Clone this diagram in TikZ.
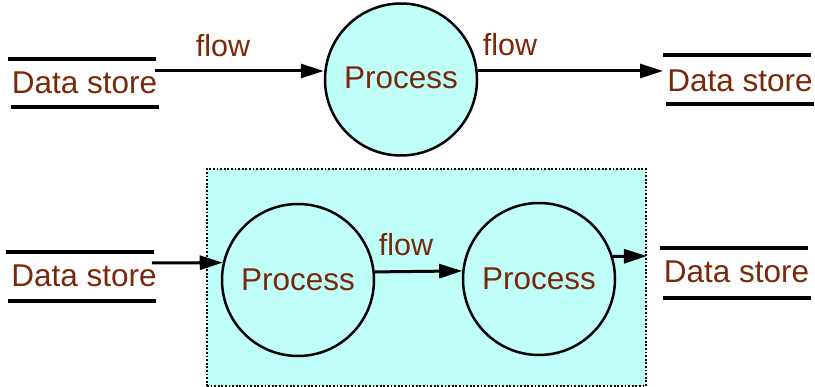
\documentclass[tikz,border=0pt]{standalone}
\usepackage{fontspec}
\setmainfont{Liberation Sans}
\usetikzlibrary{arrows.meta,calc}
\definecolor{txtbrown}{RGB}{122,40,10}
\definecolor{procfill}{RGB}{192,255,248}
\tikzset{
  proc/.style={circle,draw=black,line width=2.5pt,fill=procfill,
    minimum size=152pt,inner sep=0pt,text=txtbrown,font=\fontsize{31.5}{37}\selectfont},
  storetext/.style={anchor=base,inner sep=0pt,text=txtbrown,font=\fontsize{31.5}{37}\selectfont},
  storeline/.style={line width=3.5pt},
  flowlabel/.style={anchor=base,inner sep=0pt,text=txtbrown,font=\fontsize{30.5}{36}\selectfont},
  flowarrow/.style={line width=3pt,-{Triangle[length=23pt,width=14pt]}},
  group/.style={draw=black,line width=1.8pt,dash pattern=on 1.8pt off 1.8pt,fill=procfill}
}
\begin{document}
\begin{tikzpicture}[x=1pt,y=-1pt]
\useasboundingbox (0,0) rectangle (815,387);

% grouping box behind the lower pair of processes
\node[group,minimum width=439pt,minimum height=217pt,inner sep=0pt] (grp) at (426.5,277.5) {};

% processes
\node[proc] (c1) at (401,79.5) {\raisebox{3pt}{Process}};
\node[proc] (c2) at (298,280) {Process};
\node[proc] (c3) at (539,279) {Process};

% data stores: text with a line above and below
\node[storetext] (ds1) at (84.5,94) {Data store};
\draw[storeline] (8,59) -- (156,59);
\draw[storeline] (11,107) -- (159,107);

\node[storetext] (ds2) at (740,92) {Data store};
\draw[storeline] (663,55) -- (811,55);
\draw[storeline] (666,104) -- (814,104);

\node[storetext] (ds3) at (84,287) {Data store};
\draw[storeline] (6,252) -- (154,252);
\draw[storeline] (8,301) -- (156,301);

\node[storetext] (ds4) at (736.5,283) {Data store};
\draw[storeline] (660,248) -- (808,248);
\draw[storeline] (663,298) -- (811,298);

% connection points
\coordinate (o1) at (155,71);
\coordinate (i2) at (663,71);
\coordinate (o3) at (152,263);
\coordinate (i4) at (grp.east |- 0,256);

% flows
\draw[flowarrow] (o1) -- (c1.west |- o1);
\draw[flowarrow] (c1.east |- o1) -- (i2);
\draw[flowarrow] (o3) -- (c2.167);
\draw[flowarrow] (c2.6) -- (c3.174.7);
\draw[flowarrow] (c3.17.6) -- (i4);

% flow labels
\node[flowlabel] (f1) at (223,57) {flow};
\node[flowlabel] (f2) at (510,56) {flow};
\node[flowlabel] (f3) at (406,256) {flow};
\end{tikzpicture}
\end{document}
